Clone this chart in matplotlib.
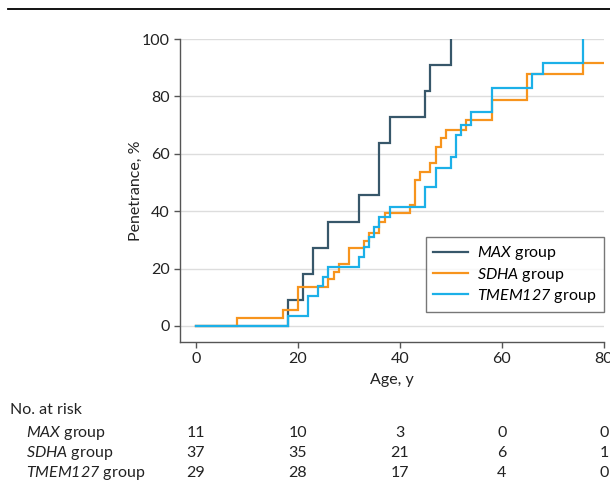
import numpy as np
import matplotlib
matplotlib.use("Agg")
import matplotlib.pyplot as plt
from matplotlib.lines import Line2D
from matplotlib import font_manager

# humanist sans close to the journal font
names = {f.name for f in font_manager.fontManager.ttflist}
fam = "Lato" if "Lato" in names else "DejaVu Sans"
plt.rcParams['font.family'] = [fam, 'DejaVu Sans']
# gene names are italic, digits included
plt.rcParams['mathtext.fontset'] = 'custom'
plt.rcParams['mathtext.it'] = fam + ':italic'
plt.rcParams['mathtext.rm'] = fam + ':italic'

# step curves: age (y) at which penetrance (%) jumps
max_age = [0, 18, 21, 23, 26, 32, 36, 38, 45, 46, 50]
max_pen = [0, 9.1, 18.2, 27.3, 36.4, 45.5, 63.6, 72.7, 81.8, 90.9, 100]

sdha_age = [0, 8, 17, 20, 26, 27, 28, 30, 33, 34, 36, 37, 42, 43, 44, 46, 47, 48, 49, 53, 58, 65, 76, 80]
sdha_pen = [0, 2.7, 5.4, 13.5, 16.2, 18.9, 21.6, 27.0, 29.7, 32.4, 36.3, 39.3, 42.3, 50.9, 53.7, 56.7, 62.5,
            65.4, 68.3, 71.8, 78.7, 87.7, 91.7, 91.7]

tmem_age = [0, 18, 22, 24, 25, 26, 32, 33, 34, 35, 36, 38, 45, 47, 50, 51, 52, 54, 58, 66, 68, 76]
tmem_pen = [0, 3.4, 10.3, 13.8, 17.2, 20.7, 24.1, 27.6, 31.0, 34.5, 38.0, 41.4, 48.3, 55.2, 59.0, 66.5,
            70.2, 74.7, 83.0, 87.7, 91.7, 100]

groups = ["MAX", "SDHA", "TMEM127"]
colors = ["#37576a", "#f7941d", "#1cb0e8"]
risk_times = [0, 20, 40, 60, 80]
at_risk = [[11, 10, 3, 0, 0],
           [37, 35, 21, 6, 1],
           [29, 28, 17, 4, 0]]

FS = 11.5

def glabel(g):
    return r'$\mathrm{%s}$ group' % g

fig = plt.figure(figsize=(6.10, 4.99), dpi=100)
ax = fig.add_axes([0.2951, 0.3146, 0.6949, 0.6072])

curves = [(max_age, max_pen), (sdha_age, sdha_pen), (tmem_age, tmem_pen)]
handles = []
for (a, p), g, c in zip(curves, groups, colors):
    h, = ax.step(a, p, where='post', color=c, lw=1.6, label=glabel(g),
                 solid_joinstyle='miter')
    handles.append(h)

ax.set_xlim(-3.1, 80)
ax.set_ylim(-5.6, 100)
ax.set_xticks(risk_times)
ax.set_yticks([0, 20, 40, 60, 80, 100])
ax.yaxis.grid(True, color='#dddddd', lw=1)
ax.set_axisbelow(True)
for s in ['top', 'right']:
    ax.spines[s].set_visible(False)
for s in ['left', 'bottom']:
    ax.spines[s].set_color('#555555')
    ax.spines[s].set_linewidth(1)
ax.tick_params(colors='#555555', labelcolor='#222222', labelsize=FS, length=4, width=1)
ax.set_xlabel('Age, y', fontsize=FS, color='#222222', labelpad=5)
ax.set_ylabel('Penetrance, %', fontsize=FS, color='#222222')
ax.yaxis.set_label_coords(-0.087, 0.5)

leg = ax.legend(handles=handles, loc='lower right', bbox_to_anchor=(1.0, 0.099),
                fontsize=FS, frameon=True, fancybox=False, handlelength=2.2,
                handletextpad=0.6, borderpad=0.45, labelspacing=0.2, borderaxespad=0)
leg.get_frame().set_edgecolor('#555555')
leg.get_frame().set_linewidth(1)

# header rule
fig.add_artist(Line2D([8 / 610, 1.0], [1 - 9 / 499, 1 - 9 / 499], color='black', lw=1.3))

# number at risk table
trans = matplotlib.transforms.blended_transform_factory(ax.transData, fig.transFigure)
fig.text(10 / 610, 1 - 410 / 499, 'No. at risk', fontsize=FS, va='center', color='#222222')
row_y = [433, 453, 473]
for g, ry, counts in zip(groups, row_y, at_risk):
    fig.text(26 / 610, 1 - ry / 499, glabel(g), fontsize=FS, va='center', color='#222222')
    for t, n in zip(risk_times, counts):
        ax.text(t, 1 - ry / 499, str(n), transform=trans, ha='center', va='center',
                fontsize=FS, color='#222222')

fig.savefig('out.png', dpi=100)
